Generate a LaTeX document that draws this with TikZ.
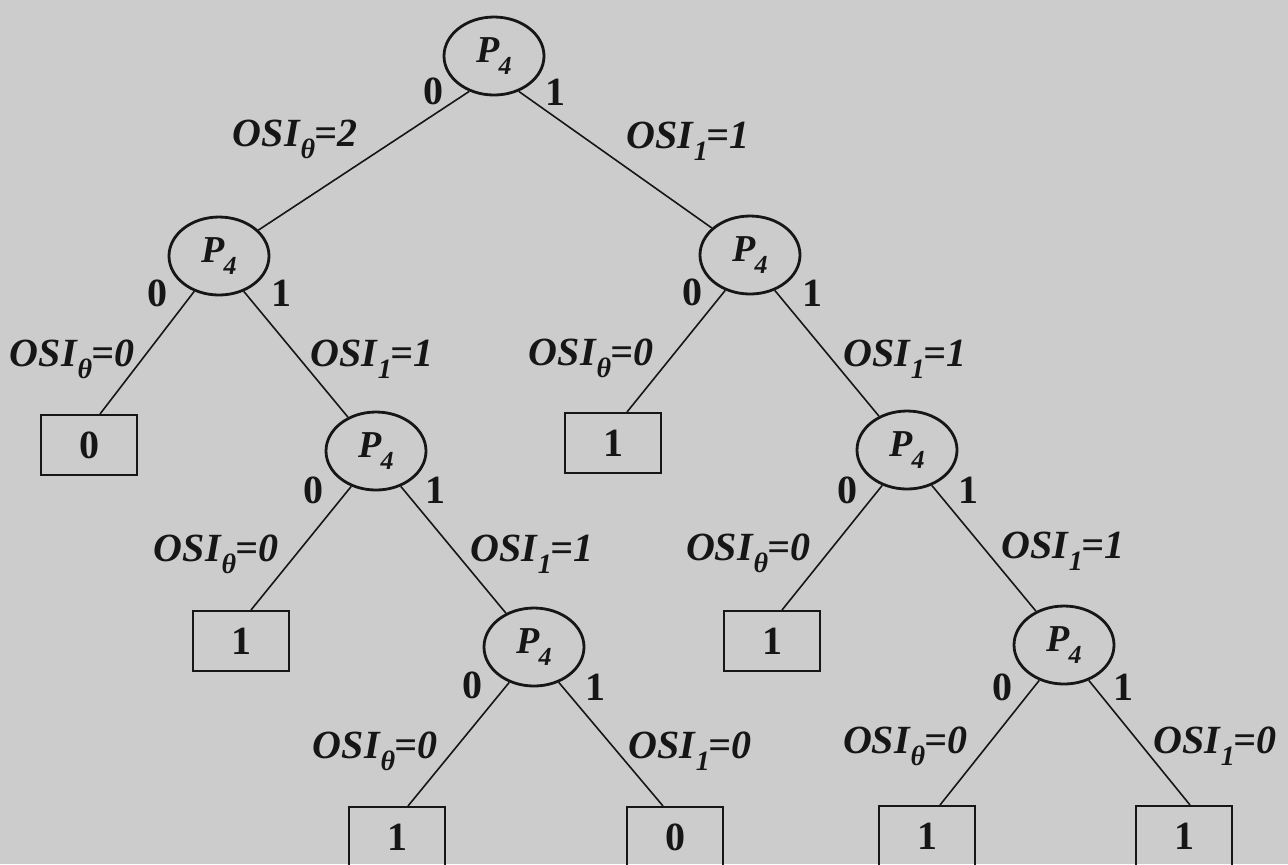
\documentclass[tikz,border=0pt]{standalone}
\usepackage{fontspec}
\setmainfont{Liberation Serif}
\usepackage{graphicx}
\usetikzlibrary{shapes.geometric}
\definecolor{paper}{RGB}{204,204,204}
\definecolor{ink}{RGB}{22,22,22}
\newcommand{\osi}[2]{{\bfseries\itshape OSI\kern0.5pt\raisebox{-0.32em}{\fontsize{14}{14}\selectfont #1}\kern-0.5pt=#2}}
\newcommand{\pf}{{\bfseries\itshape P\kern-0.5pt\raisebox{-0.3em}{\fontsize{13}{13}\selectfont 4}}}
\begin{document}
\begin{tikzpicture}[x=0.5pt,y=-0.5pt,
  pnode/.style={ellipse, draw=ink, line width=1.4pt, minimum width=50pt, minimum height=39pt, inner sep=0pt, font=\fontsize{19}{20}\selectfont, text=ink},
  leaf/.style={rectangle, draw=ink, line width=1pt, minimum width=48pt, minimum height=30pt, inner sep=0pt, font=\fontsize{20}{22}\selectfont\bfseries, text=ink},
  bit/.style={font=\fontsize{20}{22}\selectfont\bfseries, text=ink, inner sep=0pt},
  lab/.style={font=\fontsize{20}{22}\selectfont, text=ink, inner sep=0pt, anchor=base},
  conn/.style={draw=ink, line width=0.8pt}]
\useasboundingbox (0,0) rectangle (1288,864);
\fill[paper] (0,0) rectangle (1288,864);
\clip (0,0) rectangle (1288,864);

% decision nodes
\node[pnode] (r) at (494,56) {\pf};
\node[pnode] (a) at (219,256) {\pf};
\node[pnode] (b) at (750,255) {\pf};
\node[pnode] (aa) at (376,451) {\pf};
\node[pnode] (bb) at (907,450) {\pf};
\node[pnode] (aaa) at (534,647) {\pf};
\node[pnode] (bbb) at (1064,645) {\pf};

% leaves
\node[leaf] (a0) at (89,445) {0};
\node[leaf] (b0) at (613,443) {1};
\node[leaf] (aa0) at (241,641) {1};
\node[leaf] (bb0) at (772,641) {1};
\node[leaf] (aaa0) at (397,837) {1};
\node[leaf] (aaa1) at (675,837) {0};
\node[leaf] (bbb0) at (927,836) {1};
\node[leaf] (bbb1) at (1184,836) {1};

% connectors
\draw[conn] (r.235) -- (a);
\draw[conn] (r.305) -- (b);
\draw[conn] (a.235) -- ([xshift=5.5pt]a0.north);
\draw[conn] (a.305) -- (aa);
\draw[conn] (b.235) -- ([xshift=7pt]b0.north);
\draw[conn] (b.305) -- (bb);
\draw[conn] (aa.235) -- ([xshift=5pt]aa0.north);
\draw[conn] (aa.305) -- (aaa);
\draw[conn] (bb.235) -- ([xshift=5pt]bb0.north);
\draw[conn] (bb.305) -- (bbb);
\draw[conn] (aaa.235) -- ([xshift=5.5pt]aaa0.north);
\draw[conn] (aaa.305) -- ([xshift=-6pt]aaa1.north);
\draw[conn] (bbb.235) -- ([xshift=6.5pt]bbb0.north);
\draw[conn] (bbb.305) -- ([xshift=3pt]bbb1.north);

% branch bits
\node[bit] (r0) at (433,91) {0};
\node[bit] (r1) at (555,92) {1};
\node[bit] (a0b) at (157,293) {0};
\node[bit] (a1b) at (281,293) {1};
\node[bit] (b0b) at (692,292) {0};
\node[bit] (b1b) at (812,293) {1};
\node[bit] (aa0b) at (313,490) {0};
\node[bit] (aa1b) at (435,490) {1};
\node[bit] (bb0b) at (847,490) {0};
\node[bit] (bb1b) at (968,490) {1};
\node[bit] (aaa0b) at (472,685) {0};
\node[bit] (aaa1b) at (595,687) {1};
\node[bit] (bbb0b) at (1002,687) {0};
\node[bit] (bbb1b) at (1123,687) {1};

% OSI labels
\node[lab] (lr0) at (295,146) {\osi{θ}{2}};
\node[lab] (lr1) at (688,148) {\osi{1}{1}};
\node[lab] (la0) at (72,366) {\osi{θ}{0}};
\node[lab] (la1) at (372,366) {\osi{1}{1}};
\node[lab] (lb0) at (591,365) {\osi{θ}{0}};
\node[lab] (lb1) at (905,366) {\osi{1}{1}};
\node[lab] (laa0) at (216,561) {\osi{θ}{0}};
\node[lab] (laa1) at (532,561) {\osi{1}{1}};
\node[lab] (lbb0) at (748,560) {\osi{θ}{0}};
\node[lab] (lbb1) at (1063,558) {\osi{1}{1}};
\node[lab] (laaa0) at (375,758) {\osi{θ}{0}};
\node[lab] (laaa1) at (690,758) {\osi{1}{0}};
\node[lab] (lbbb0) at (905,753) {\osi{θ}{0}};
\node[lab] (lbbb1) at (1215,753) {\osi{1}{0}};
\end{tikzpicture}
\end{document}
